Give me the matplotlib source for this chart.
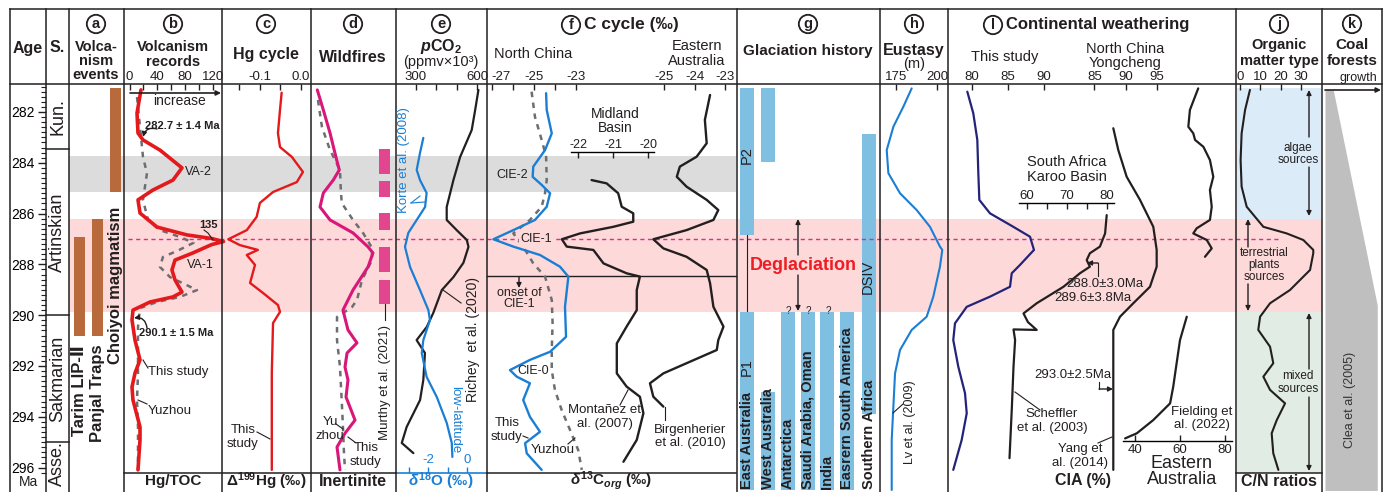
import numpy as np
import matplotlib
matplotlib.use("Agg")
import matplotlib.pyplot as plt

plt.rcParams["font.family"] = ["Liberation Sans", "DejaVu Sans", "Noto Sans CJK SC"]
plt.rcParams["axes.unicode_minus"] = False
plt.rcParams["mathtext.fontset"] = "custom"
plt.rcParams["mathtext.rm"] = "Liberation Sans:bold"
plt.rcParams["mathtext.it"] = "Liberation Sans:italic:bold"
plt.rcParams["mathtext.bf"] = "Liberation Sans:bold"

INK = "#231f20"
RED = "#e3191c"
MAGENTA = "#d9177a"
BLUE = "#1a7fd4"
NAVY = "#24237a"
DASH_GRAY = "#6d6e71"
BROWN = "#b86a3c"
GLAC = "#7fbfe2"
PINK = "#fdd9d9"
BAND_GRAY = "#dcdcdc"
ALGAE = "#dcebf8"
MIXED = "#e0ece4"
COAL = "#bfbfbf"
MURTHY = "#e2468e"

# ---------------- data (ages in Ma) ----------------
stage_names = ["Kun.", "Artinskian", "Sakmarian", "Asse."]
stage_bounds = [280.9, 283.45, 290.0, 295.0, 296.7]

va2_band = (283.73, 285.16)
degl_band = (286.21, 289.87)
cie1_age = 287.0
onset_cie1 = 288.47

# (a) volcanism events
volc_names = ["Choiyoi magmatism", "Panjal Traps", "Tarim LIP-Ⅱ"]
volc_top = [281.04, 286.21, 286.93]
volc_base = [285.16, 290.82, 290.82]

# (b) Hg/TOC
hgtoc_age = [281.13, 282.04, 282.83, 283.10, 283.50, 284.20, 284.68, 285.07, 285.46, 285.98,
             286.53, 286.84, 286.98, 287.10, 287.22, 287.55, 287.83, 288.22, 288.61, 289.09,
             289.28, 289.48, 289.80, 290.19, 290.98, 291.76, 292.28, 292.83, 293.34, 294.40,
             294.91, 296.09]
hgtoc = [16.5, 10.8, 12.2, 19.4, 43.8, 75.4, 62.5, 33.8, 12.2, 15.1,
         39.5, 82.6, 118, 135, 118, 91, 65.4, 61, 65.4, 75.4,
         62.5, 29.5, 5, 3.6, 7.9, 15.1, 7.9, 3.6, 5, 15.1,
         15.1, 12.2]
yz_hgtoc_age = [281.41, 281.80, 283.77, 284.41, 285.46, 286.25, 286.65, 286.92, 287.15, 287.45,
                287.71, 288.10, 288.50, 289.01, 289.28, 289.48, 289.72, 290.46, 291.25, 292.28,
                293.34, 294.40, 295.43, 296.09]
yz_hgtoc = [10.8, 12.2, 19.4, 25.1, 19.4, 26.6, 43.8, 72.6, 92, 70,
            48, 43.8, 58.2, 97, 72.6, 39.5, 15.1, 12.2, 12.2, 12.2,
            10.8, 12.2, 12.2, 12.2]

# (c) D199Hg
hg199_age = [281.24, 281.92, 282.83, 283.38, 283.77, 284.36, 284.76, 285.15, 285.58, 286.13,
             286.65, 287.01, 287.24, 287.43, 287.63, 288.02, 288.73, 289.13, 289.60, 289.87,
             290.31, 292.28, 296.09]
hg199 = [-0.046, -0.05, -0.055, -0.05, -0.021, 0.006, -0.009, -0.067, -0.099, -0.107,
         -0.131, -0.176, -0.148, -0.104, -0.131, -0.111, -0.123, -0.091, -0.055, -0.05,
         -0.067, -0.07, -0.07]

# (d) inertinite
inert_age = [281.13, 281.92, 282.83, 283.89, 284.28, 284.68, 285.19, 285.74, 286.25, 286.76,
             287.31, 287.55, 288.10, 289.01, 289.80, 290.58, 291.09, 291.49, 292.04, 292.55,
             293.22, 294.13, 294.65, 295.19, 296.09]
inert = [7.4, 14.5, 22.4, 30.2, 33.3, 26.2, 14.5, 10.6, 22.4, 49.4,
         67.1, 72.9, 67.1, 49.4, 37.6, 43.5, 54.1, 42.4, 40.0, 43.5,
         41.2, 51.8, 40.0, 30.6, 34.1]
yz_inert_age = [281.53, 282.59, 283.50, 284.28, 284.95, 285.58, 286.25, 286.76, 287.35, 287.83,
                288.61, 289.40, 289.68, 290.07, 290.98, 292.04, 293.61, 294.40, 295.43, 296.09]
yz_inert = [8.2, 12.9, 22.4, 34.1, 34.9, 36.1, 49.4, 61.2, 71.8, 71.8,
            60.0, 54.1, 48.2, 30.6, 30.6, 34.1, 36.5, 37.6, 38.8, 40.0]
murthy_top = [283.46, 284.72, 285.98, 287.31, 288.60]
murthy_base = [284.44, 285.35, 286.65, 288.30, 289.56]

# (e) pCO2 and d18O
pco2_age = [281.13, 281.92, 282.71, 283.77, 284.68, 285.74, 286.25, 286.65, 287.04, 287.31,
            287.94, 288.50, 289.01, 289.91, 290.46, 290.98, 291.49, 292.55, 293.34, 294.40,
            295.03, 295.43]
pco2 = [607, 591, 574, 517, 484, 451, 451, 500, 550, 558,
        533, 484, 427, 385, 353, 303, 344, 336, 320, 254,
        230, 287]
d18o_age = [283.02, 283.61, 284.28, 284.68, 285.19, 285.74, 286.25, 286.76, 287.31, 288.10,
            289.01, 289.80, 290.19, 290.98, 291.49, 292.43, 293.22, 294.24, 295.03, 295.58]
d18o = [-2.24, -2.41, -2.58, -2.41, -2.07, -2.15, -2.58, -3.01, -3.18, -2.92,
        -2.41, -1.98, -1.90, -2.24, -2.32, -2.07, -1.55, -1.04, -0.78, -0.75]

# (f) d13C org
nc_age = [281.26, 281.92, 282.84, 283.50, 284.15, 284.55, 284.87, 285.20, 285.73, 286.25,
          286.65, 287.01, 287.30, 287.63, 288.09, 288.48, 289.67, 290.85, 291.44, 291.76,
          292.16, 292.42, 292.68, 293.34, 294.00, 294.59, 295.04, 295.44, 296.09]
nc_d13c = [-24.41, -24.38, -24.14, -24.46, -25.02, -25.05, -24.62, -24.22, -24.38, -24.94,
           -25.97, -26.92, -25.97, -24.70, -23.75, -23.35, -23.51, -23.46, -24.22, -25.18,
           -26.13, -25.81, -25.18, -25.50, -25.18, -24.70, -25.41, -25.33, -24.62]
yz_d13c_age = [281.20, 282.19, 283.10, 283.76, 284.68, 285.20, 285.73, 286.25, 286.78, 287.30,
               287.96, 288.48, 289.40, 290.32, 291.37, 292.16, 292.94, 293.73, 294.52, 295.31,
               296.09]
yz_d13c = [-25.10, -24.94, -24.62, -24.41, -24.38, -24.46, -24.62, -25.18, -25.97, -25.50,
           -25.02, -24.46, -24.14, -24.10, -24.14, -24.14, -23.99, -23.67, -23.27, -22.88,
           -22.71]
mid_age = [284.68, 284.81, 285.20, 285.73, 285.99, 286.32, 286.52, 286.78, 287.01, 287.30,
           287.43, 287.96, 288.35, 288.48, 289.01, 289.80, 290.45, 291.11, 292.29, 292.81,
           293.21, 293.86, 294.91, 295.77]
mid_d13c = [-21.62, -21.19, -20.86, -20.76, -20.43, -20.43, -21.00, -21.95, -22.47, -22.33,
            -21.57, -21.28, -20.62, -20.24, -20.33, -20.33, -20.62, -20.90, -20.90, -20.62,
            -20.24, -20.14, -20.33, -20.71]
ea_age = [281.33, 282.31, 283.23, 283.76, 284.15, 284.55, 284.94, 285.46, 285.86, 286.25,
          286.65, 287.01, 287.37, 287.70, 288.22, 288.74, 289.67, 290.45, 290.98, 291.37,
          291.89, 292.29, 292.68, 293.21, 293.60]
ea_d13c = [-23.49, -23.66, -23.60, -23.93, -24.48, -24.58, -24.26, -23.60, -23.22, -23.38,
           -24.26, -25.35, -25.02, -24.26, -23.60, -23.49, -23.38, -23.05, -23.22, -23.27,
           -24.26, -25.02, -25.46, -25.35, -25.02]

# (g) glaciation history
glac_regions = ["East Australia", "West Australia", "Antarctica", "Saudi Arabia, Oman",
                "India", "Easrern South America", "Southern Africa"]
glac_tops = [[281.06, 289.87], [281.06, 293.01], [289.87], [289.87], [289.87], [289.87], [282.87]]
glac_bases = [[286.84, 296.9], [283.96, 296.9], [296.9], [296.9], [296.9], [296.9], [293.90]]

# (h) eustasy
sea_age = [281.07, 281.79, 282.58, 283.50, 284.41, 285.20, 285.86, 286.52, 287.30, 287.43,
           288.09, 289.27, 290.06, 290.58, 291.37, 292.29, 293.60, 294.91, 296.88]
sea = [184.6, 179.6, 173.6, 169.6, 170.6, 177.6, 187.6, 195.6, 201.6, 203.0,
       201.6, 197.6, 193.6, 184.6, 177.6, 174.6, 173.6, 172.6, 172.6]

# (i) CIA
cia_age = [281.20, 282.05, 283.10, 284.41, 285.46, 285.99, 286.52, 286.91, 287.43, 288.02,
           288.35, 288.88, 289.27, 289.67, 290.32, 290.98, 292.03, 293.07, 293.86, 294.91,
           296.09]
cia = [79.39, 80.22, 80.78, 80.92, 81.06, 82.54, 85.78, 88.10, 88.65, 86.71,
       85.56, 85.32, 82.54, 79.31, 77.68, 77.44, 78.14, 79.07, 79.31, 78.61,
       77.44]
karoo_age = [286.06, 286.78, 287.30, 287.56, 287.83, 288.09, 288.35, 288.88, 289.53, 289.93,
             290.27, 290.58, 290.56, 290.98, 292.03, 293.60, 295.63]
karoo_cia = [80.0, 79.6, 78.3, 75.8, 75.0, 75.8, 73.3, 69.2, 62.5, 59.2,
             60.3, 62.5, 56.7, 57.1, 56.7, 56.3, 55.7]
yc_age = [282.64, 283.50, 284.55, 285.46, 286.52, 287.43, 288.09, 288.88, 289.53, 290.06,
          290.58, 292.29, 296.09]
yc_cia = [88.04, 88.84, 90.18, 92.31, 94.44, 94.98, 94.98, 93.91, 91.24, 89.11,
          88.04, 88.04, 88.04]
fd_age = [281.07, 281.92, 282.58, 282.84, 283.10, 283.37, 283.89, 284.55, 285.07, 285.73,
          286.25, 286.58, 286.78, 287.04, 287.37, 287.70, np.nan, 290.06, 290.98, 291.89,
          292.81, 293.47, 294.13, 294.65, 294.85]
fd_cia = [68.1, 64.4, 63.7, 65.9, 66.7, 70.4, 73.3, 74.8, 73.3, 74.1,
          73.3, 67.4, 65.9, 71.9, 74.1, 71.1, np.nan, 63.0, 60.0, 58.5,
          57.0, 55.6, 48.1, 40.8, 35.6]

# (j) C/N ratios
cn_age = [281.13, 281.92, 282.84, 283.89, 284.94, 285.73, 286.52, 286.78, 287.04, 287.43,
          287.56, 288.22, 289.01, 289.53, 290.06, 290.58, 291.24, 291.89, 292.42, 292.94,
          293.47, 294.13, 294.65, 295.44, 296.09]
cn = [4.9, 2.5, 0.8, 0.3, 0.8, 3.3, 11.5, 23.0, 31.2, 36.1,
      36.1, 34.5, 24.6, 14.8, 9.9, 9.0, 14.8, 16.4, 11.5, 14.8,
      22.2, 18.1, 15.6, 16.4, 18.9]
algae_zone = (281.06, 286.21)
mixed_zone = (289.87, 296.21)

# (k) coal forests
coal_age = [281.13, 289.6, 296.9]
coal_growth = [0.15, 0.95, 0.95]

# ---------------- layout ----------------
W, H = 1389, 492
fig = plt.figure(figsize=(W / 100, H / 100), dpi=100)

Y282, PX_MA = 112.0, 25.4      # row of 282 Ma and pixels per Myr
TOP, BOT = 84, 492


def age_at(y):
    return 282 + (y - Y282) / PX_MA


def add_panel(x0, x1, scale=(0, 0, 1, 1), y0=TOP, y1=BOT):
    v0, p0, v1, p1 = scale
    k = (v1 - v0) / (p1 - p0)
    ax = fig.add_axes([x0 / W, 1 - y1 / H, (x1 - x0) / W, (y1 - y0) / H])
    ax.set_xlim(v0 + (x0 - p0) * k, v0 + (x1 - p0) * k)
    ax.set_ylim(age_at(y1), age_at(y0))
    ax.patch.set_visible(False)
    for s in ax.spines.values():
        s.set_visible(False)
    ax.set_xticks([])
    ax.set_yticks([])
    return ax


def xaxis(ax, major, labels, minor=(), side="top", color=INK, pad=1, size=9.5):
    ax.xaxis.set_ticks_position(side)
    ax.set_xticks(major)
    ax.set_xticklabels(labels)
    ax.set_xticks(list(minor), minor=True)
    ax.tick_params(axis="x", which="both", direction="in", length=4, width=1,
                   color=color, labelcolor=color, labelsize=size, pad=pad)


def curve(ax, x, y, color, lw=1.6, dashed=False):
    kw = dict(color=color, lw=lw, solid_joinstyle="round", solid_capstyle="round", clip_on=False)
    if dashed:
        kw.update(dashes=(2.2, 2.2))
    ax.plot(x, y, **kw)


# background: pixel x, age y
geo = add_panel(0, W)
geo.fill_between([69, 736], *va2_band, color=BAND_GRAY, lw=0)
geo.fill_between([69, 1322], *degl_band, color=PINK, lw=0)
geo.fill_between([1237, 1321], *algae_zone, color=ALGAE, lw=0)
geo.fill_between([1237, 1321], *mixed_zone, color=MIXED, lw=0)

for x, t, b in zip([110, 92, 74], volc_top, volc_base):
    geo.fill_between([x, x + 11], t, b, color=BROWN, lw=0)

for x, tops, bases in zip([740, 760.7, 780.7, 800.7, 820, 840, 861.7], glac_tops, glac_bases):
    for t, b in zip(tops, bases):
        geo.fill_between([x, x + 14], t, b, color=GLAC, lw=0)

geo.plot([128, 1280], [cie1_age, cie1_age], color="#e8268d", lw=1, dashes=(3, 2.5))
geo.plot([487, 736], [onset_cie1, onset_cie1], color=INK, lw=1)

for b in stage_bounds[1:-1]:
    geo.plot([46, 69], [b, b], color=INK, lw=1.1)
for name, a0, a1 in zip(stage_names, stage_bounds[:-1], stage_bounds[1:]):
    geo.text(57.5, (a0 + a1) / 2, name, rotation=90, ha="center", va="center",
             fontsize=13, color=INK)

# age scale
age_ax = add_panel(10, 46)
age_ax.yaxis.set_ticks_position("right")
age_ax.set_yticks(np.arange(282, 297, 2))
age_ax.set_yticks(np.round(np.arange(281.0, 296.3, 0.2), 1), minor=True)
age_ax.tick_params(axis="y", which="major", direction="in", length=6, width=1,
                   pad=-8, labelsize=10, labelright=True, labelleft=False, color=INK)
age_ax.tick_params(axis="y", which="minor", direction="in", length=3.5, width=0.8, color=INK)
for lbl in age_ax.get_yticklabels():
    lbl.set_ha("right")

# (b)
axb = add_panel(124, 222, (0, 129.5, 120, 213.0))
xaxis(axb, [0, 40, 80, 120], ["0", "40", "80", "120"], minor=[20, 60, 100])
curve(axb, yz_hgtoc, yz_hgtoc_age, DASH_GRAY, lw=1.8, dashed=True)
curve(axb, hgtoc, hgtoc_age, RED, lw=2.6)

# (c)
axc = add_panel(222, 311, (-0.1, 259.5, 0.0, 300.5))
xaxis(axc, [-0.1, 0.0], ["-0.1", "0.0"], minor=[-0.15, -0.05])
curve(axc, hg199, hg199_age, RED, lw=1.7)

# (d)
axd = add_panel(311, 396, (0, 311, 100, 396))
curve(axd, yz_inert, yz_inert_age, DASH_GRAY, lw=1.8, dashed=True)
curve(axd, inert, inert_age, MAGENTA, lw=2.2)
for t, b in zip(murthy_top, murthy_base):
    axd.fill_between([80, 93], t, b, color=MURTHY, lw=0)

# (e)
axe = add_panel(396, 487, (300, 416, 600, 477))
xaxis(axe, [300, 600], ["300", "600"], minor=[400, 500])
curve(axe, pco2, pco2_age, INK, lw=1.6)
axo = add_panel(396, 487, (-2, 428, 0, 467), y1=473)
axo.spines["bottom"].set_visible(True)
axo.spines["bottom"].set_color(BLUE)
axo.spines["bottom"].set_linewidth(1.2)
xaxis(axo, [-2, 0], ["-2", "0"], minor=[-3, -1], side="bottom", color=BLUE, pad=-14)
curve(axo, d18o, d18o_age, BLUE, lw=1.6)

# (f)
axf = add_panel(487, 736, (-27, 491.7, -23, 575.7))
xaxis(axf, [-27, -25, -23], ["-27", "-25", "-23"], minor=[-26, -24])
axf.get_xticklabels()[0].set_ha("left")
curve(axf, yz_d13c, yz_d13c_age, DASH_GRAY, lw=1.8, dashed=True)
curve(axf, nc_d13c, nc_age, BLUE, lw=1.7)
axf2 = add_panel(487, 736, (-25, 664, -23, 725))
xaxis(axf2, [-25, -24, -23], ["-25", "-24", "-23"])
curve(axf2, ea_d13c, ea_age, INK, lw=1.7)
axm = add_panel(571, 654, (-22, 578.3, -20, 648.3), y0=152)
axm.spines["top"].set_visible(True)
axm.spines["top"].set_linewidth(1)
xaxis(axm, [-22, -21, -20], ["-22", "-21", "-20"], size=9)
curve(axm, mid_d13c, mid_age, INK, lw=1.7)

# (h)
axh = add_panel(880, 948, (175, 895.7, 200, 937.3))
xaxis(axh, [175, 200], ["175", "200"])
curve(axh, sea, sea_age, BLUE, lw=1.5)

# (i)
axi = add_panel(948, 1236, (80, 971.7, 90, 1043.7))
xaxis(axi, [80, 85, 90], ["80", "85", "90"])
curve(axi, cia, cia_age, NAVY, lw=1.6)
axi2 = add_panel(948, 1236, (85, 1094.3, 95, 1156.8))
xaxis(axi2, [85, 90, 95], ["85", "90", "95"])
curve(axi2, yc_cia, yc_age, INK, lw=1.6)
axk = add_panel(1019, 1114, (60, 1026.7, 80, 1106.7), y0=203)
axk.spines["top"].set_visible(True)
axk.spines["top"].set_linewidth(1)
xaxis(axk, [60, 70, 80], ["60", "70", "80"], minor=[65, 75])
curve(axk, karoo_cia, karoo_age, INK, lw=1.6)
axfd = add_panel(1123, 1232, (40, 1135, 80, 1225), y1=441)
axfd.spines["bottom"].set_visible(True)
axfd.spines["bottom"].set_linewidth(1)
xaxis(axfd, [40, 60, 80], ["40", "60", "80"], side="bottom", pad=2)
curve(axfd, fd_cia, fd_age, INK, lw=1.6)

# (j)
axj = add_panel(1236, 1322, (0, 1240, 30, 1300.9))
xaxis(axj, [0, 10, 20, 30], ["0", "10", "20", "30"])
curve(axj, cn, cn_age, INK, lw=1.5)

# (k)
axc2 = add_panel(1325, 1380, (0, 1325, 1, 1380))
axc2.fill_betweenx(coal_age, 0, coal_growth, color=COAL, lw=0)

# ---------------- frame and labels (pixel coordinates) ----------------
bg = fig.add_axes([0, 0, 1, 1])
bg.set_xlim(0, W)
bg.set_ylim(H, 0)
bg.axis("off")

for x in [10, 46, 69, 124, 222, 311, 396, 487, 737, 880, 948, 1236, 1322, 1382]:
    bg.plot([x, x], [9, H], color=INK, lw=1.1)
bg.plot([10, 1382], [9, 9], color=INK, lw=1.1)
bg.plot([10, 1382], [84, 84], color=INK, lw=1.1)
for x0, x1 in [(124, 396), (487, 736), (1236, 1322)]:
    bg.plot([x0, x1], [473, 473], color=INK, lw=1.1)


def txt(x, y, s, size=9.5, color=INK, **kw):
    kw.setdefault("ha", "center")
    kw.setdefault("va", "center")
    bg.text(x, y, s, fontsize=size, color=color, **kw)


def circled(x, y, letter):
    bg.text(x, y, letter, ha="center", va="center", fontsize=10.5, fontweight="bold",
            color=INK, bbox=dict(boxstyle="circle,pad=0.15", fc="none", ec=INK, lw=1.3))


def line(*pts, color=INK, lw=0.8):
    xs, ys = zip(*pts)
    bg.plot(xs, ys, color=color, lw=lw)


def arrow(x0, y0, x1, y1, rad=0.0, color=INK, lw=1.0):
    bg.annotate("", xy=(x1, y1), xytext=(x0, y0),
                arrowprops=dict(arrowstyle="-|>", color=color, lw=lw, mutation_scale=7,
                                shrinkA=0, shrinkB=0, connectionstyle=f"arc3,rad={rad}"))


# header
txt(28, 48, "Age", 11.5, fontweight="bold")
txt(57.5, 48, "S.", 11.5, fontweight="bold")
circled(96, 24, "a")
txt(96, 47, "Volca-", 10.5, fontweight="bold")
txt(96, 61, "nism", 10.5, fontweight="bold")
txt(96, 75, "events", 10.5, fontweight="bold")
circled(173, 24, "b")
txt(173, 47, "Volcanism", 10.5, fontweight="bold")
txt(173, 62, "records", 10.5, fontweight="bold")
circled(266, 24, "c")
txt(266, 55, "Hg cycle", 11.5, fontweight="bold")
circled(353, 24, "d")
txt(353, 57, "Wildfires", 11.5, fontweight="bold")
circled(441, 24, "e")
txt(441, 47, r"$p$CO$_2$", 11.5, fontweight="bold")
txt(441, 62, "(ppmv×10³)", 10.5)
circled(571, 25, "f")
txt(584, 25, "C cycle (‰)", 12.5, fontweight="bold", ha="left")
txt(533, 54, "North China", 10.5)
txt(697, 46, "Eastern", 10.5)
txt(697, 61, "Australia", 10.5)
txt(615, 114, "Midland", 10)
txt(615, 128, "Basin", 10)
circled(808, 24, "g")
txt(808, 51, "Glaciation history", 11, fontweight="bold")
circled(914, 24, "h")
txt(914, 50, "Eustasy", 11.5, fontweight="bold")
txt(914, 64, "(m)", 10.5)
circled(993, 25, "l")
txt(1006, 25, "Continental weathering", 12, fontweight="bold", ha="left")
txt(1005, 57, "This study", 10.5)
txt(1125, 49, "North China", 10.5)
txt(1125, 63, "Yongcheng", 10.5)
txt(1067, 162, "South Africa", 10.5)
txt(1067, 177, "Karoo Basin", 10.5)
circled(1279, 24, "j")
txt(1279, 45, "Organic", 10.5, fontweight="bold")
txt(1279, 61, "matter type", 10.5, fontweight="bold")
circled(1352, 24, "k")
txt(1352, 45, "Coal", 11, fontweight="bold")
txt(1352, 61, "forests", 11, fontweight="bold")
txt(1358, 78, "growth", 9)

# footer
txt(28, 482, "Ma", 10)
txt(173, 481, "Hg/TOC", 11, fontweight="bold")
txt(266, 481, r"$\Delta^{199}$Hg (‰)", 11, fontweight="bold")
txt(353, 481, "Inertinite", 11.5, fontweight="bold")
txt(441, 481, r"$\delta^{18}$O (‰)", 11, color=BLUE, fontweight="bold")
txt(611, 481, r"$\delta^{13}$C$_{org}$ (‰)", 11, fontweight="bold")
txt(1083, 481, "CIA (%)", 11.5, fontweight="bold")
txt(1279, 481, "C/N ratios", 11.5, fontweight="bold")
txt(1182, 463, "Eastern", 13)
txt(1182, 480, "Australia", 13)

# (a)
txt(115.5, 285, volc_names[0], 12, fontweight="bold", rotation=90)
txt(97.5, 393, volc_names[1], 12, fontweight="bold", rotation=90)
txt(79.5, 391, volc_names[2], 12, fontweight="bold", rotation=90)

# (b)
arrow(130, 93, 221, 93, lw=1.2)
txt(180, 101, "increase", 10)
txt(182, 126, "282.7 ± 1.4 Ma", 8, fontweight="bold")
arrow(157, 129, 143, 137, rad=0.5)
txt(198, 172, "VA-2", 9)
txt(208, 225, "135", 8, fontweight="bold")
line((204, 230), (208, 233), (213, 240))
txt(200, 265, "VA-1", 9)
txt(176, 333, "290.1 ± 1.5 Ma", 8, fontweight="bold")
arrow(147, 328, 134, 318, rad=0.5)
txt(178, 372, "This study", 9.5)
line((143, 360), (148, 368))
txt(170, 411, "Yuzhou", 9.5)
line((138, 400), (147, 404))

# (c)
txt(243, 430, "This", 9.5)
txt(243, 444, "study", 9.5)
line((257, 432), (270, 439))

# (d)
txt(330, 422, "Yu", 9.5)
txt(330, 436, "zhou", 9.5)
line((336, 424), (343, 429))
txt(366, 448, "This", 9.5)
txt(366, 462, "study", 9.5)
line((348, 437), (356, 443))
line((384.5, 304), (384.5, 320))
txt(385, 383, "Murthy et al. (2021)", 9.5, rotation=90)

# (e)
txt(404, 160, "Korte et al. (2008)", 9.5, color=BLUE, rotation=90)
line((411, 203), (420, 196), color=BLUE)
line((411, 203), (425, 202), color=BLUE)
txt(473, 340, "Richey  et al. (2020)", 10, rotation=90)
line((461, 303), (443, 290))
txt(455, 420, "low-latitude", 9.5, color=BLUE, rotation=-90)

# (f)
txt(512, 175, "CIE-2", 9)
txt(536, 239, "CIE-1", 9, bbox=dict(fc=PINK, ec="none", pad=0.5))
arrow(519, 277, 519, 288, lw=1.0)
txt(519, 293, "onset of", 9)
txt(519, 304, "CIE-1", 9)
txt(533, 371, "CIE-0", 9)
txt(507, 423, "This", 9.5)
txt(507, 437, "study", 9.5)
line((523, 436), (528, 438))
txt(553, 450, "Yuzhou", 9.5)
line((568, 444), (575, 438))
txt(605, 410, "Montañez et", 9.5)
txt(605, 424, "al. (2007)", 9.5)
line((620, 405), (628, 390))
txt(690, 430, "Birgenherier", 9.5)
txt(690, 443, "et al. (2010)", 9.5)
line((665, 407), (665, 420))

# (g)
txt(747, 155, "P2", 10.5, rotation=90)
txt(747, 367, "P1", 10.5, rotation=90)
txt(868, 277, "DSIV", 10.5, rotation=90)
for x, name in zip([747, 767.7, 787.7, 807.7, 827, 847, 868.7], glac_regions):
    bg.text(x, 489, name, rotation=90, ha="center", va="bottom", fontsize=10.5,
            fontweight="bold", color=INK)
for x in [788, 808, 828]:
    txt(x, 311, "?", 7)
line((746.7, 235), (746.7, 311))
txt(803, 265, "Deglaciation", 13, color="#ee1c24", fontweight="bold")
arrow(798, 255, 798, 219)
arrow(798, 275, 798, 311)

# (h)
txt(910, 422, "Lv et al. (2009)", 9, rotation=90)
line((893, 413), (903, 404))

# (i)
txt(1105, 284, "288.0±3.0Ma", 9.5)
txt(1093, 298, "289.6±3.8Ma", 9.5)
line((1098, 276), (1098, 263))
arrow(1098, 263, 1087, 263)
txt(1073, 375, "293.0±2.5Ma", 9.5)
line((1099, 382), (1099, 389))
arrow(1099, 389, 1113, 389)
txt(1052, 414, "Scheffler", 9.5)
txt(1052, 428, "et al. (2003)", 9.5)
line((1015, 392), (1040, 410))
txt(1080, 449, "Yang et", 9.5)
txt(1080, 463, "al. (2014)", 9.5)
line((1112, 437), (1098, 443))
txt(1202, 412, "Fielding et", 9.5)
txt(1202, 425, "al. (2022)", 9.5)

# (j)
txt(1298, 148, "algae", 8.5)
txt(1298, 160, "sources", 8.5)
arrow(1309, 137, 1309, 90)
arrow(1309, 167, 1309, 216)
txt(1264, 253, "terrestrial", 8.5)
txt(1264, 265, "plants", 8.5)
txt(1264, 277, "sources", 8.5)
arrow(1248, 247, 1248, 219)
arrow(1248, 284, 1248, 311)
txt(1298, 376, "mixed", 8.5)
txt(1298, 389, "sources", 8.5)
arrow(1309, 369, 1309, 313)
arrow(1309, 397, 1309, 471)

# (k)
arrow(1325, 90, 1381, 90, lw=1.2)
txt(1350, 400, "Clea et al. (2005)", 9, color="#333333", rotation=90)

fig.savefig("out.png", dpi=100)
